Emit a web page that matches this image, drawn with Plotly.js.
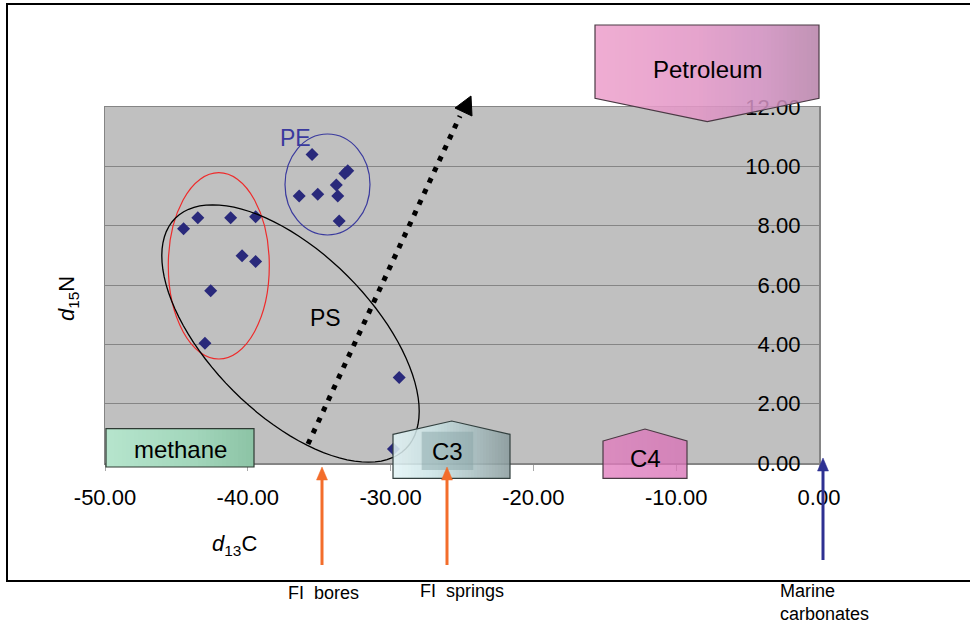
<!DOCTYPE html>
<html>
<head>
<meta charset="utf-8">
<script src="https://cdn.plot.ly/plotly-3.0.1.min.js"></script>
<style>html,body{margin:0;padding:0;background:#fff;}#chart{width:970px;height:623px;}</style>
</head>
<body>
<div id="chart"></div>
<script>
// ---- data ----
const d13C = [-35.5, -36.4, -35.1, -33.8, -33.7, -33.2, -33.0, -33.6,
              -44.5, -43.5, -41.2, -39.45, -40.4, -39.45, -42.6, -43.0, -29.4, -29.8];
const d15N = [10.40, 9.00, 9.06, 9.37, 9.00, 9.76, 9.85, 8.16,
              7.90, 8.27, 8.27, 8.30, 6.99, 6.79, 5.81, 4.04, 2.88, 0.47];
const xTickVals = [-50, -40, -30, -20, -10, 0];
const xTickText = ['-50.00', '-40.00', '-30.00', '-20.00', '-10.00', '0.00'];
const yTickVals = [0, 2, 4, 6, 8, 10, 12];
const yTickText = ['0.00', '2.00', '4.00', '6.00', '8.00', '10.00', '12.00'];
const groupLabels = ['PE', 'PS'];
const sourceLabels = ['methane', 'C3', 'C4', 'Petroleum'];
const arrowLabels = ['FI  bores', 'FI  springs', 'Marine<br>carbonates'];

// ---- geometry helpers (pixel -> paper) ----
const L = 105, R = 819, T = 107, B = 463;
const W = R - L, H = B - T;
const px = x => (x - L) / W;
const py = y => (B - y) / H;
const FONT = 'Liberation Sans, Arial, Helvetica, sans-serif';

function poly(pts) {
  return 'M ' + pts.map(p => px(p[0]).toFixed(6) + ',' + py(p[1]).toFixed(6)).join(' L ') + ' Z';
}
function rotEllipse(cx, cy, a, b, deg) {
  const th = deg * Math.PI / 180, c = Math.cos(th), s = Math.sin(th);
  const pts = [];
  for (let i = 0; i < 96; i++) {
    const t = i / 96 * 2 * Math.PI;
    const ex = a * Math.cos(t), ey = b * Math.sin(t);
    pts.push([cx + ex * c - ey * s, cy + ex * s + ey * c]);
  }
  return poly(pts);
}
function hex2rgb(h) { return [1, 3, 5].map(i => parseInt(h.substr(i, 2), 16)); }
function colorAt(stops, t) {
  for (let i = 1; i < stops.length; i++) {
    if (t <= stops[i][0] || i === stops.length - 1) {
      const [t0, c0] = stops[i - 1], [t1, c1] = stops[i];
      const f = Math.max(0, Math.min(1, (t - t0) / (t1 - t0)));
      const a = hex2rgb(c0), b = hex2rgb(c1);
      return a.map((v, k) => Math.round(v + (b[k] - v) * f));
    }
  }
}
function interp(chain, x) {
  for (let i = 1; i < chain.length; i++) {
    if (x <= chain[i][0] || i === chain.length - 1) {
      const [x0, y0] = chain[i - 1], [x1, y1] = chain[i];
      return y0 + (y1 - y0) * (x - x0) / (x1 - x0);
    }
  }
}
// horizontal gradient fill made of thin vertical strips
function gradientStrips(top, bottom, stops, alpha, step) {
  const xl = top[0][0], xr = top[top.length - 1][0];
  const out = [];
  for (let a = xl; a < xr; a += step) {
    const b = Math.min(a + step, xr);
    const pts = [[a, interp(top, a)]];
    top.forEach(p => { if (p[0] > a && p[0] < b) pts.push(p); });
    pts.push([b, interp(top, b)], [b, interp(bottom, b)]);
    bottom.slice().reverse().forEach(p => { if (p[0] > a && p[0] < b) pts.push(p); });
    pts.push([a, interp(bottom, a)]);
    const c = colorAt(stops, ((a + b) / 2 - xl) / (xr - xl));
    out.push({type: 'path', xref: 'paper', yref: 'paper', path: poly(pts),
      fillcolor: `rgba(${c[0]},${c[1]},${c[2]},${alpha})`, line: {width: 0}});
  }
  return out;
}
function outline(top, bottom, color) {
  const pts = top.concat(bottom.slice().reverse());
  return {type: 'path', xref: 'paper', yref: 'paper', path: poly(pts),
    fillcolor: 'rgba(0,0,0,0)', line: {color: color, width: 1.2}};
}
function arrowShapes(x, yTip, yTail, color) {
  return [
    {type: 'line', xref: 'paper', yref: 'paper', x0: px(x), x1: px(x), y0: py(yTip + 10), y1: py(yTail),
     line: {color: color, width: 3}},
    {type: 'path', xref: 'paper', yref: 'paper',
     path: poly([[x, yTip], [x - 5.5, yTip + 13], [x + 5.5, yTip + 13]]),
     fillcolor: color, line: {color: color, width: 0.5}}
  ];
}

// decorative outlines (pixel positions of the reference drawing)
const petroTop = [[595, 25], [819, 25]], petroBot = [[595, 98.3], [707.3, 121.7], [819, 98.3]];
const c3Top = [[393, 434.3], [451.7, 421], [510, 434.3]], c3Bot = [[393, 478.3], [510, 478.3]];
const c4Top = [[603, 441], [645, 429], [687, 441]], c4Bot = [[603, 478.3], [687, 478.3]];
const methTop = [[106, 428.7], [254, 428.7]], methBot = [[106, 467], [254, 467]];

let shapes = [
  {type: 'rect', xref: 'paper', yref: 'paper', x0: px(7), x1: px(985), y0: py(4), y1: py(581),
   line: {color: '#000', width: 2}, fillcolor: 'rgba(0,0,0,0)', layer: 'below'},
  {type: 'circle', xref: 'paper', yref: 'paper', x0: px(168.3), x1: px(269.3), y0: py(359), y1: py(172.7),
   line: {color: '#ee2b2b', width: 1.2}},
  {type: 'circle', xref: 'paper', yref: 'paper', x0: px(285), x1: px(370), y0: py(235), y1: py(134),
   line: {color: '#3a3a9e', width: 1.2}},
  {type: 'path', xref: 'paper', yref: 'paper', path: rotEllipse(290.5, 333.5, 163, 81, 45),
   line: {color: '#000', width: 1.3}},
  {type: 'line', xref: 'paper', yref: 'paper', x0: px(308), y0: py(444), x1: px(460), y1: py(116),
   line: {color: '#000', width: 5, dash: '5px,7px'}},
  {type: 'path', xref: 'paper', yref: 'paper', path: poly([[471, 96], [455, 108], [472, 116]]),
   fillcolor: '#000', line: {color: '#000', width: 1}}
];
shapes = shapes
  .concat(gradientStrips(methTop, methBot, [[0, '#b6e5cd'], [0.6, '#a2d6bb'], [1, '#8cc3a5']], 1, 4))
  .concat([outline(methTop, methBot, '#2e3a33')])
  .concat(gradientStrips(c3Top, c3Bot, [[0, '#e2f4f6'], [0.35, '#c9e2e4'], [0.7, '#a6bdbf'], [1, '#889a9b']], 0.85, 3))
  .concat([{type: 'rect', xref: 'paper', yref: 'paper', x0: px(421.7), x1: px(473.3), y0: py(470), y1: py(431.7),
            fillcolor: 'rgba(130,160,162,0.45)', line: {width: 0}}])
  .concat([outline(c3Top, c3Bot, '#33403f')])
  .concat(gradientStrips(c4Top, c4Bot, [[0, '#e27dbf'], [1, '#d872b6']], 0.78, 4))
  .concat([outline(c4Top, c4Bot, '#4a3a44')])
  .concat(gradientStrips(petroTop, petroBot, [[0, '#eea2cd'], [0.45, '#e297c6'], [0.75, '#cf8fbf'], [1, '#b884aa']], 0.88, 4))
  .concat([outline(petroTop, petroBot, '#4a3a44')])
  .concat(arrowShapes(322, 467, 565, '#f36d2b'))
  .concat(arrowShapes(447, 467, 565, '#f36d2b'))
  .concat(arrowShapes(823, 458, 560, '#2e3192'));

const ann = (text, x, y, size, color, extra) => Object.assign({
  text: text, xref: 'paper', yref: 'paper', x: px(x), y: py(y), showarrow: false,
  xanchor: 'center', yanchor: 'middle', font: {family: FONT, size: size, color: color || '#000'}
}, extra || {});

const annotations = [
  ann(groupLabels[0], 295, 138, 23, '#3a3a9e'),
  ann(groupLabels[1], 325, 318, 23, '#000'),
  ann(sourceLabels[0], 180, 449, 24),
  ann(sourceLabels[1], 447, 451, 24),
  ann(sourceLabels[2], 645, 458, 24),
  ann(sourceLabels[3], 707, 70, 24),
  ann('<i>d</i><sub>13</sub>C', 234, 545, 22),
  ann('<i>d</i><sub>15</sub>N', 68, 299, 22, '#000', {textangle: -90}),
  ann(arrowLabels[0], 323, 593, 18),
  ann(arrowLabels[1], 462, 591, 18),
  ann(arrowLabels[2], 778, 602, 18, '#000', {xanchor: 'left', align: 'left'})
];

const trace = {
  type: 'scatter', mode: 'markers', x: d13C, y: d15N,
  marker: {symbol: 'diamond', size: 10, color: '#29297b', line: {width: 0}},
  cliponaxis: false, hoverinfo: 'x+y'
};

const layout = {
  width: 970, height: 623, autosize: false,
  margin: {l: L, r: 970 - R, t: T, b: 623 - B, pad: 0},
  paper_bgcolor: '#ffffff', plot_bgcolor: '#c0c0c0',
  showlegend: false,
  font: {family: FONT, size: 22, color: '#000'},
  xaxis: {
    range: [-50, 0], tickvals: xTickVals, ticktext: xTickText,
    ticks: 'outside', ticklen: 6, tickcolor: '#a8a8a8', tickwidth: 1,
    showgrid: false, zeroline: false, showline: true, mirror: true,
    linecolor: '#858585', linewidth: 1.5, ticklabeloverflow: 'allow',
    tickfont: {family: FONT, size: 22, color: '#000'}, ticklabelstandoff: 8
  },
  yaxis: {
    range: [0, 12], tickvals: yTickVals, ticktext: yTickText,
    side: 'right', ticklabelposition: 'inside', ticks: '', ticklabeloverflow: 'allow',
    showgrid: true, gridcolor: '#858585', gridwidth: 1,
    zeroline: false, showline: true, mirror: true,
    linecolor: '#858585', linewidth: 1.5,
    tickfont: {family: FONT, size: 22, color: '#000'}, ticklabelstandoff: 20
  },
  shapes: shapes,
  annotations: annotations
};

Plotly.newPlot('chart', [trace], layout, {staticPlot: true, displayModeBar: false});
</script>
</body>
</html>
